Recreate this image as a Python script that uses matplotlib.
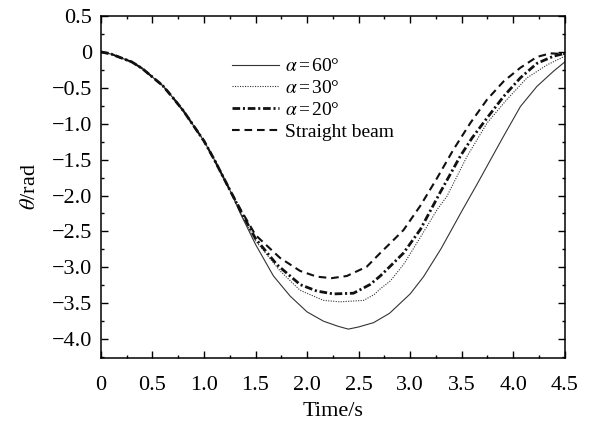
import numpy as np
import matplotlib
matplotlib.use("Agg")
import matplotlib.pyplot as plt

plt.rcParams['font.family'] = ['Liberation Serif', 'DejaVu Serif']
plt.rcParams['mathtext.fontset'] = 'stix'
plt.rcParams['lines.scale_dashes'] = False

# shared early portion (all curves coincide)
t_common = [0, 0.1, 0.2, 0.3, 0.4, 0.5, 0.6, 0.7, 0.8, 0.9, 1.0, 1.1, 1.2, 1.25]
y_common = [0, -0.03, -0.085, -0.14, -0.23, -0.35, -0.47, -0.64, -0.82, -1.03, -1.24, -1.50, -1.78, -1.92]

t_60 = [1.35, 1.5, 1.674, 1.836, 2.0, 2.16, 2.3, 2.4, 2.5, 2.645, 2.8, 3.0, 3.13, 3.3, 3.5,
        3.65, 3.8, 3.9, 4.07, 4.23, 4.39, 4.5]
y_60 = [-2.24, -2.68, -3.12, -3.40, -3.62, -3.75, -3.82, -3.86, -3.83, -3.77, -3.64, -3.37,
        -3.13, -2.74, -2.22, -1.84, -1.45, -1.19, -0.76, -0.48, -0.27, -0.14]

t_30 = [1.35, 1.5, 1.739, 1.933, 2.16, 2.32, 2.548, 2.65, 2.71, 2.807, 2.936, 3.10, 3.26,
        3.357, 3.55, 3.746, 3.94, 4.135, 4.33, 4.5]
y_30 = [-2.22, -2.63, -3.05, -3.32, -3.46, -3.48, -3.46, -3.38, -3.30, -3.19, -2.96, -2.58,
        -2.20, -2.01, -1.46, -0.99, -0.66, -0.36, -0.18, -0.06]

t_20 = [1.35, 1.5, 1.706, 1.933, 2.095, 2.256, 2.45, 2.61, 2.71, 2.81, 2.936, 3.10, 3.29,
        3.487, 3.6, 3.746, 3.907, 4.07, 4.23, 4.39, 4.5]
y_20 = [-2.20, -2.60, -2.96, -3.24, -3.33, -3.37, -3.36, -3.24, -3.12, -2.98, -2.80, -2.47,
        -1.96, -1.45, -1.20, -0.92, -0.62, -0.36, -0.16, -0.06, -0.02]

t_straight = [1.35, 1.5, 1.739, 1.933, 2.095, 2.24, 2.386, 2.58, 2.71, 2.81, 2.936, 3.10,
              3.26, 3.42, 3.584, 3.746, 3.907, 4.07, 4.23, 4.36, 4.5]
y_straight = [-2.18, -2.55, -2.87, -3.05, -3.13, -3.15, -3.12, -2.99, -2.80, -2.66, -2.48,
              -2.14, -1.76, -1.36, -0.99, -0.664, -0.41, -0.22, -0.07, -0.02, -0.03]

labels = [r'$\alpha\,$=$\,$60°', r'$\alpha\,$=$\,$30°', r'$\alpha\,$=$\,$20°',
          'Straight beam']

x_ticks = [0, 0.5, 1.0, 1.5, 2.0, 2.5, 3.0, 3.5, 4.0, 4.5]
x_tick_labels = ['0', '0.5', '1.0', '1.5', '2.0', '2.5', '3.0', '3.5', '4.0', '4.5']
y_ticks = [0.5, 0, -0.5, -1.0, -1.5, -2.0, -2.5, -3.0, -3.5, -4.0]
y_tick_labels = ['0.5', '0', '\u22120.5', '\u22121.0', '\u22121.5', '\u22122.0', '\u22122.5',
                 '\u22123.0', '\u22123.5', '\u22124.0']

fig = plt.figure(figsize=(5.97, 4.21), dpi=100)
ax = fig.add_axes([0.169, 0.150, 0.777, 0.812])

def full(t, y):
    return np.array(t_common + t), np.array(y_common + y)

x, y = full(t_60, y_60)
ax.plot(x, y, color='#333333', lw=0.8, ls='-', label=labels[0])
x, y = full(t_30, y_30)
ax.plot(x, y, color='#333333', lw=0.8, ls=(0, (0.8, 1.0)), label=labels[1])
x, y = full(t_20, y_20)
ax.plot(x, y, color='#111111', lw=2.0, ls=(0, (5.5, 2.0, 1.5, 2.0)), label=labels[2])
x, y = full(t_straight, y_straight)
ax.plot(x, y, color='#111111', lw=1.5, ls=(0, (5.5, 3.5)), label=labels[3])

ax.set_xlim(0, 4.5)
ax.set_ylim(-4.26, 0.5)
ax.set_xticks(x_ticks)
ax.set_xticklabels(x_tick_labels)
ax.set_yticks(y_ticks)
ax.set_yticklabels(y_tick_labels)
ax.set_xticks(np.arange(0.25, 4.5, 0.5), minor=True)
ax.set_yticks(np.arange(-4.25, 0.5, 0.5), minor=True)
ax.tick_params(which='both', direction='in', top=True, right=True, labelsize=16, width=1.0)
ax.tick_params(which='major', length=5)
ax.tick_params(which='minor', length=2.5)
ax.tick_params(axis='x', pad=13)
ax.tick_params(axis='y', pad=6.5)
for s in ax.spines.values():
    s.set_linewidth(1.1)

ax.set_xlabel('Time/s', fontsize=16, labelpad=5)
ax.set_ylabel(r'$\theta$/rad', fontsize=16, labelpad=8)

leg = ax.legend(loc='upper left', bbox_to_anchor=(0.283, 0.878), frameon=False,
                fontsize=14, handlelength=2.4, handletextpad=0.3, labelspacing=0.22,
                borderpad=0, borderaxespad=0)

fig.savefig('out.png', dpi=100)
